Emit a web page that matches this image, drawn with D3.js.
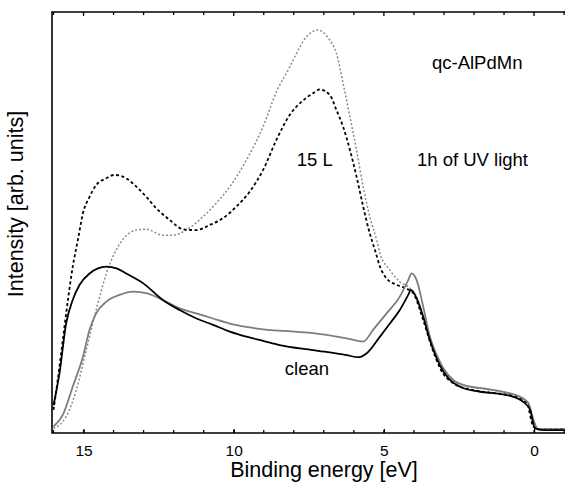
<!DOCTYPE html>
<html>
<head>
<meta charset="utf-8">
<script src="https://cdn.jsdelivr.net/npm/d3@7"></script>
<style>
  body { margin: 0; background: #fff; }
  svg { display: block; font-family: "Liberation Sans", Arial, Helvetica, sans-serif; }
</style>
</head>
<body>
<svg id="chart" width="565" height="482"></svg>
<script>
// binding energy [eV], intensity [arb. units, 0-100]
const clean = [
  [16.0, 6.6], [15.8, 14.2], [15.58, 26], [15.36, 31.6], [15.13, 35.2], [14.8, 37.9],
  [14.24, 39.5], [13.9, 39.1], [13.58, 37.9], [13.02, 35.6], [12.36, 31.6], [11.8, 29.2],
  [11.24, 27.2], [10.69, 25.7], [10.13, 24.1], [9.58, 22.9], [9.02, 21.9], [8.47, 20.9],
  [7.36, 19.7], [6.24, 18.5], [5.86, 18.0], [5.58, 18.9], [5.13, 22.9], [4.8, 26.0],
  [4.47, 29.2], [4.19, 32.8], [4.1, 34.0], [3.91, 32], [3.69, 27.6], [3.47, 22.1],
  [3.24, 17.7], [3.02, 14.6], [2.8, 12.6], [2.47, 11.0], [1.8, 9.8], [1.13, 9.3],
  [0.69, 8.6], [0.36, 7.4], [0.13, 5.5], [-0.03, 1.1], [-0.3, 0.7], [-1.03, 0.7]
];
const cleanUV = [
  [16.0, 1.5], [15.69, 4.3], [15.36, 11], [15.02, 18.1], [14.8, 24.5], [14.58, 28.4],
  [14.24, 31.2], [13.8, 32.8], [13.36, 33.6], [12.91, 33.2], [12.36, 31.6], [11.8, 29.6],
  [11.24, 28.4], [10.69, 27.2], [10.13, 26], [9.58, 25.2], [9.02, 24.6], [8.47, 24.3],
  [7.36, 23.7], [6.24, 22.5], [5.69, 21.7], [5.36, 24.5], [4.91, 28.4], [4.47, 32.4],
  [4.19, 36.3], [4.08, 37.9], [3.91, 36.3], [3.69, 30], [3.47, 22.9], [3.24, 18.5],
  [3.02, 15.4], [2.69, 12.6], [2.24, 11.2], [1.58, 10.5], [0.91, 9.6], [0.47, 8.6],
  [0.19, 7.1], [0.02, 3.1], [-0.14, 0.9], [-1.03, 0.9]
];
const dosed = [
  [16.0, 5.5], [15.86, 12.6], [15.69, 22.1], [15.52, 31.6], [15.36, 39.5], [15.19, 45.8],
  [15.02, 52.2], [14.8, 56.1], [14.58, 58.9], [14.24, 60.5], [13.97, 61.3], [13.58, 60.5],
  [13.24, 58.5], [12.91, 56.1], [12.58, 53.4], [12.13, 50.6], [11.69, 48.4], [11.24, 48.2],
  [10.8, 49.4], [10.36, 51], [9.91, 53.8], [9.47, 57.3], [9.02, 62.5], [8.58, 69.6],
  [8.13, 75.6], [7.8, 78.3], [7.36, 80.7], [7.13, 81.6], [6.8, 80.3], [6.58, 76.7],
  [6.36, 72.8], [6.13, 67.2], [5.91, 60.9], [5.69, 53.8], [5.47, 47.4], [5.3, 43.5],
  [5.13, 39.5], [4.91, 36.7], [4.58, 35.2], [4.19, 34.1], [4.02, 33.2], [3.69, 26.8],
  [3.41, 20.5], [3.13, 15.4], [2.69, 11.8], [2.02, 10.2], [1.24, 9.4], [0.69, 8.8],
  [0.24, 7.1], [0.02, 1.5], [-0.2, 0.9], [-1.03, 0.9]
];
const dosedUV = [
  [16.0, 1.1], [15.58, 3.9], [15.24, 10.2], [14.91, 19.7], [14.58, 29.2], [14.24, 37.9],
  [13.91, 43.5], [13.69, 46.0], [13.24, 48.2], [12.91, 48.4], [12.36, 47], [12.02, 47],
  [11.58, 48.2], [11.02, 51.4], [10.58, 54.6], [10.13, 58.5], [9.58, 64.8], [9.02, 72.8],
  [8.58, 81.0], [8.19, 86.2], [8.02, 88.6], [7.58, 94.1], [7.19, 95.7], [6.8, 93.3],
  [6.58, 90.2], [6.36, 83.1], [6.13, 75.1], [5.91, 67.2], [5.69, 58.5], [5.47, 51.4],
  [5.24, 45.8], [5.13, 42.7], [4.8, 38.7], [4.47, 35.9], [4.13, 34.4], [3.91, 32.4],
  [3.58, 25.2], [3.24, 18.1], [2.91, 13.8], [2.47, 11.6], [1.8, 10.6], [1.13, 9.8],
  [0.58, 9.0], [0.19, 7.1], [0.0, 1.5], [-0.2, 0.9], [-1.03, 0.9]
];
const majorTicks = [15, 10, 5, 0];
const minorTicks = d3.range(16, -2, -1);
const notes = [
  { text: "qc-AlPdMn", e: 3.4, v: 86.5 },
  { text: "15 L", e: 7.9, v: 63.5 },
  { text: "1h of UV light", e: 3.9, v: 63.5 },
  { text: "clean", e: 8.3, v: 13.8 }
];

const svg = d3.select("#chart");
const mLeft = 52, mRight = 565, mTop = 12, mBottom = 433;

const x = d3.scaleLinear().domain([16.05, -1.03]).range([mLeft, mRight]);
const y = d3.scaleLinear().domain([0, 100]).range([mBottom, mTop]);

const line = d3.line()
  .x(d => x(d[0]))
  .y(d => y(d[1]))
  .curve(d3.curveMonotoneX);

const series = [
  { data: dosedUV, color: "#8a8a8a", width: 1.5, dash: "2,2" },
  { data: dosed, color: "#000", width: 1.8, dash: "3,2.5" },
  { data: cleanUV, color: "#7d7d7d", width: 1.8, dash: null },
  { data: clean, color: "#000", width: 1.8, dash: null }
];

svg.selectAll("path.spec")
  .data(series)
  .enter()
  .append("path")
  .attr("class", "spec")
  .attr("d", d => line(d.data))
  .attr("fill", "none")
  .attr("stroke", d => d.color)
  .attr("stroke-width", d => d.width)
  .attr("stroke-dasharray", d => d.dash);

// bottom axis, ticks pointing inward
const xAxis = d3.axisBottom(x).tickValues(majorTicks).tickSize(-4).tickPadding(12).tickFormat(d3.format("d"));
const gx = svg.append("g").attr("transform", `translate(0,${mBottom})`).call(xAxis);
gx.attr("font-size", null).attr("font-family", null);
gx.select(".domain").remove();
gx.selectAll(".tick line").attr("stroke-width", 1.3);
gx.selectAll(".tick text")
  .attr("y", 12)
  .style("font-size", "15.5px")
  .attr("fill", "#000");

svg.append("g").selectAll("line.minor")
  .data(minorTicks)
  .enter()
  .append("line")
  .attr("x1", d => x(d)).attr("x2", d => x(d))
  .attr("y1", mBottom).attr("y2", mBottom - 3)
  .attr("stroke", "#000").attr("stroke-width", 1.3);

svg.append("g").selectAll("line.top")
  .data(minorTicks)
  .enter()
  .append("line")
  .attr("x1", d => x(d)).attr("x2", d => x(d))
  .attr("y1", mTop).attr("y2", d => mTop + (d % 5 === 0 ? 4 : 3))
  .attr("stroke", "#000").attr("stroke-width", 1.3);

// frame: left, top, bottom
svg.append("path")
  .attr("d", `M${mRight},${mTop}H${mLeft}V${mBottom}H${mRight}`)
  .attr("fill", "none")
  .attr("stroke", "#000")
  .attr("stroke-width", 1.6);

svg.append("text")
  .attr("x", 324).attr("y", 477)
  .attr("text-anchor", "middle")
  .attr("font-size", 21.5)
  .text("Binding energy [eV]");

svg.append("text")
  .attr("transform", "translate(23,204) rotate(-90)")
  .attr("text-anchor", "middle")
  .attr("font-size", 21.5)
  .text("Intensity [arb. units]");

svg.selectAll("text.note")
  .data(notes)
  .enter()
  .append("text")
  .attr("class", "note")
  .attr("x", d => x(d.e))
  .attr("y", d => y(d.v))
  .attr("font-size", 18.5)
  .text(d => d.text);
</script>
</body>
</html>
